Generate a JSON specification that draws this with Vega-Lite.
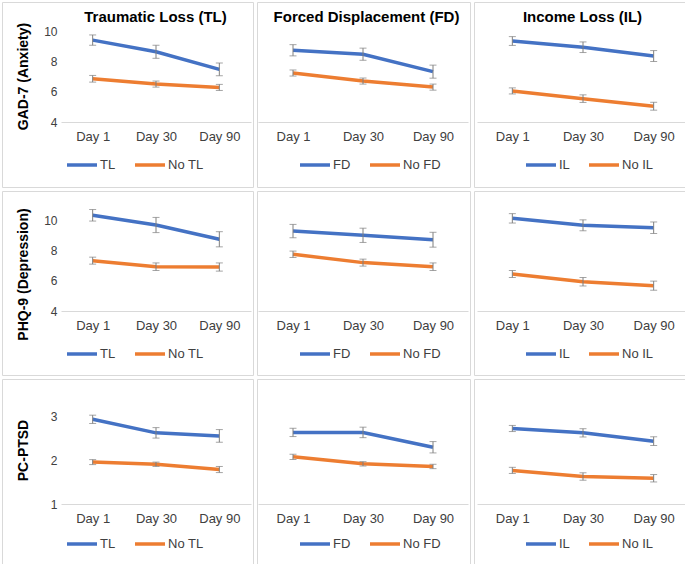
{
  "$schema": "https://vega.github.io/schema/vega-lite/v6.json",
  "padding": {"left": 1, "top": 1, "right": 0, "bottom": 0},
  "background": "white",
  "datasets": {
    "d": [
      {"m":"GAD-7","g":"TL","s":"TL","d":"Day 1","v":9.4,"lo":9.06,"hi":9.74},
      {"m":"GAD-7","g":"TL","s":"TL","d":"Day 30","v":8.63,"lo":8.2,"hi":9.06},
      {"m":"GAD-7","g":"TL","s":"TL","d":"Day 90","v":7.47,"lo":7.05,"hi":7.89},
      {"m":"GAD-7","g":"TL","s":"No TL","d":"Day 1","v":6.85,"lo":6.63,"hi":7.07},
      {"m":"GAD-7","g":"TL","s":"No TL","d":"Day 30","v":6.5,"lo":6.3,"hi":6.7},
      {"m":"GAD-7","g":"TL","s":"No TL","d":"Day 90","v":6.28,"lo":6.08,"hi":6.48},
      {"m":"GAD-7","g":"FD","s":"FD","d":"Day 1","v":8.73,"lo":8.36,"hi":9.1},
      {"m":"GAD-7","g":"FD","s":"FD","d":"Day 30","v":8.47,"lo":8.07,"hi":8.87},
      {"m":"GAD-7","g":"FD","s":"FD","d":"Day 90","v":7.32,"lo":6.89,"hi":7.75},
      {"m":"GAD-7","g":"FD","s":"No FD","d":"Day 1","v":7.23,"lo":7.03,"hi":7.43},
      {"m":"GAD-7","g":"FD","s":"No FD","d":"Day 30","v":6.7,"lo":6.5,"hi":6.9},
      {"m":"GAD-7","g":"FD","s":"No FD","d":"Day 90","v":6.3,"lo":6.1,"hi":6.5},
      {"m":"GAD-7","g":"IL","s":"IL","d":"Day 1","v":9.34,"lo":9.05,"hi":9.63},
      {"m":"GAD-7","g":"IL","s":"IL","d":"Day 30","v":8.93,"lo":8.58,"hi":9.28},
      {"m":"GAD-7","g":"IL","s":"IL","d":"Day 90","v":8.35,"lo":7.99,"hi":8.71},
      {"m":"GAD-7","g":"IL","s":"No IL","d":"Day 1","v":6.05,"lo":5.85,"hi":6.25},
      {"m":"GAD-7","g":"IL","s":"No IL","d":"Day 30","v":5.54,"lo":5.29,"hi":5.79},
      {"m":"GAD-7","g":"IL","s":"No IL","d":"Day 90","v":5.04,"lo":4.78,"hi":5.3},
      {"m":"PHQ-9","g":"TL","s":"TL","d":"Day 1","v":10.31,"lo":9.93,"hi":10.69},
      {"m":"PHQ-9","g":"TL","s":"TL","d":"Day 30","v":9.67,"lo":9.17,"hi":10.17},
      {"m":"PHQ-9","g":"TL","s":"TL","d":"Day 90","v":8.73,"lo":8.23,"hi":9.23},
      {"m":"PHQ-9","g":"TL","s":"No TL","d":"Day 1","v":7.32,"lo":7.09,"hi":7.55},
      {"m":"PHQ-9","g":"TL","s":"No TL","d":"Day 30","v":6.92,"lo":6.67,"hi":7.17},
      {"m":"PHQ-9","g":"TL","s":"No TL","d":"Day 90","v":6.9,"lo":6.63,"hi":7.17},
      {"m":"PHQ-9","g":"FD","s":"FD","d":"Day 1","v":9.27,"lo":8.83,"hi":9.71},
      {"m":"PHQ-9","g":"FD","s":"FD","d":"Day 30","v":8.99,"lo":8.52,"hi":9.46},
      {"m":"PHQ-9","g":"FD","s":"FD","d":"Day 90","v":8.7,"lo":8.21,"hi":9.19},
      {"m":"PHQ-9","g":"FD","s":"No FD","d":"Day 1","v":7.74,"lo":7.53,"hi":7.95},
      {"m":"PHQ-9","g":"FD","s":"No FD","d":"Day 30","v":7.19,"lo":6.96,"hi":7.42},
      {"m":"PHQ-9","g":"FD","s":"No FD","d":"Day 90","v":6.92,"lo":6.67,"hi":7.17},
      {"m":"PHQ-9","g":"IL","s":"IL","d":"Day 1","v":10.11,"lo":9.8,"hi":10.42},
      {"m":"PHQ-9","g":"IL","s":"IL","d":"Day 30","v":9.65,"lo":9.29,"hi":10.01},
      {"m":"PHQ-9","g":"IL","s":"IL","d":"Day 90","v":9.49,"lo":9.11,"hi":9.87},
      {"m":"PHQ-9","g":"IL","s":"No IL","d":"Day 1","v":6.44,"lo":6.21,"hi":6.67},
      {"m":"PHQ-9","g":"IL","s":"No IL","d":"Day 30","v":5.93,"lo":5.65,"hi":6.21},
      {"m":"PHQ-9","g":"IL","s":"No IL","d":"Day 90","v":5.67,"lo":5.37,"hi":5.97},
      {"m":"PC-PTSD","g":"TL","s":"TL","d":"Day 1","v":2.94,"lo":2.845,"hi":3.035},
      {"m":"PC-PTSD","g":"TL","s":"TL","d":"Day 30","v":2.63,"lo":2.51,"hi":2.75},
      {"m":"PC-PTSD","g":"TL","s":"TL","d":"Day 90","v":2.56,"lo":2.415,"hi":2.705},
      {"m":"PC-PTSD","g":"TL","s":"No TL","d":"Day 1","v":1.96,"lo":1.903,"hi":2.017},
      {"m":"PC-PTSD","g":"TL","s":"No TL","d":"Day 30","v":1.91,"lo":1.86,"hi":1.96},
      {"m":"PC-PTSD","g":"TL","s":"No TL","d":"Day 90","v":1.79,"lo":1.72,"hi":1.86},
      {"m":"PC-PTSD","g":"FD","s":"FD","d":"Day 1","v":2.64,"lo":2.545,"hi":2.735},
      {"m":"PC-PTSD","g":"FD","s":"FD","d":"Day 30","v":2.64,"lo":2.52,"hi":2.76},
      {"m":"PC-PTSD","g":"FD","s":"FD","d":"Day 90","v":2.3,"lo":2.17,"hi":2.43},
      {"m":"PC-PTSD","g":"FD","s":"No FD","d":"Day 1","v":2.08,"lo":2.02,"hi":2.14},
      {"m":"PC-PTSD","g":"FD","s":"No FD","d":"Day 30","v":1.92,"lo":1.87,"hi":1.97},
      {"m":"PC-PTSD","g":"FD","s":"No FD","d":"Day 90","v":1.86,"lo":1.81,"hi":1.91},
      {"m":"PC-PTSD","g":"IL","s":"IL","d":"Day 1","v":2.73,"lo":2.66,"hi":2.8},
      {"m":"PC-PTSD","g":"IL","s":"IL","d":"Day 30","v":2.63,"lo":2.535,"hi":2.725},
      {"m":"PC-PTSD","g":"IL","s":"IL","d":"Day 90","v":2.44,"lo":2.34,"hi":2.54},
      {"m":"PC-PTSD","g":"IL","s":"No IL","d":"Day 1","v":1.77,"lo":1.7,"hi":1.84},
      {"m":"PC-PTSD","g":"IL","s":"No IL","d":"Day 30","v":1.63,"lo":1.545,"hi":1.715},
      {"m":"PC-PTSD","g":"IL","s":"No IL","d":"Day 90","v":1.59,"lo":1.505,"hi":1.675}
    ]
  },
  "data": {"name": "d"},
  "spacing": 2,
  "resolve": {"scale": {"x": "independent", "y": "independent", "color": "independent"}, "legend": {"color": "independent"}, "axis": {"x": "independent", "y": "independent"}},
  "vconcat": [
    {
      "spacing": 2,
      "resolve": {"scale": {"x": "independent", "y": "independent", "color": "independent"}, "legend": {"color": "independent"}},
      "hconcat": [
        {
          "width": 251, "height": 185,
          "title": {"text": "Traumatic Loss (TL)", "dx": 28},
          "transform": [{"filter": "datum.m === 'GAD-7' && datum.g === 'TL'"}],
          "encoding": {"x": {"field": "d", "type": "ordinal", "scale": {"type": "point", "domain": ["Day 1","Day 30","Day 90"], "range": [59, 249], "padding": 0.5}, "axis": {"offset": -65, "title": null}}},
          "layer": [
            {"mark": {"type": "line", "strokeWidth": 3.5}, "encoding": {
              "y": {"field": "v", "type": "quantitative", "scale": {"domain": [4, 10], "range": [120, 29], "nice": false, "zero": false}, "axis": {"values": [4,6,8,10], "offset": -59, "title": "GAD-7 (Anxiety)", "titleX": -31, "titleY": 74}},
              "color": {"field": "s", "type": "nominal", "scale": {"domain": ["TL","No TL"], "range": ["#4472C4","#ED7D31"]}, "legend": {"legendX": 63, "legendY": 146}}}},
            {"mark": {"type": "rule", "color": "#7f7f7f", "strokeWidth": 1}, "encoding": {"y": {"field": "lo", "type": "quantitative"}, "y2": {"field": "hi"}}},
            {"mark": {"type": "tick", "orient": "horizontal", "size": 7, "thickness": 1, "color": "#7f7f7f"}, "encoding": {"y": {"field": "lo", "type": "quantitative"}}},
            {"mark": {"type": "tick", "orient": "horizontal", "size": 7, "thickness": 1, "color": "#7f7f7f"}, "encoding": {"y": {"field": "hi", "type": "quantitative"}}}
          ]
        },
        {
          "width": 213, "height": 185,
          "title": {"text": "Forced Displacement (FD)", "dx": 3},
          "transform": [{"filter": "datum.m === 'GAD-7' && datum.g === 'FD'"}],
          "encoding": {"x": {"field": "d", "type": "ordinal", "scale": {"type": "point", "domain": ["Day 1","Day 30","Day 90"], "range": [1, 211], "padding": 0.5}, "axis": {"offset": -65, "title": null}}},
          "layer": [
            {"mark": {"type": "line", "strokeWidth": 3.5}, "encoding": {
              "y": {"field": "v", "type": "quantitative", "scale": {"domain": [4, 10], "range": [120, 29], "nice": false, "zero": false}, "axis": null},
              "color": {"field": "s", "type": "nominal", "scale": {"domain": ["FD","No FD"], "range": ["#4472C4","#ED7D31"]}, "legend": {"legendX": 41, "legendY": 146}}}},
            {"mark": {"type": "rule", "color": "#7f7f7f", "strokeWidth": 1}, "encoding": {"y": {"field": "lo", "type": "quantitative", "axis": null}, "y2": {"field": "hi"}}},
            {"mark": {"type": "tick", "orient": "horizontal", "size": 7, "thickness": 1, "color": "#7f7f7f"}, "encoding": {"y": {"field": "lo", "type": "quantitative", "axis": null}}},
            {"mark": {"type": "tick", "orient": "horizontal", "size": 7, "thickness": 1, "color": "#7f7f7f"}, "encoding": {"y": {"field": "hi", "type": "quantitative", "axis": null}}}
          ]
        },
        {
          "width": 215, "height": 185,
          "title": {"text": "Income Loss (IL)", "dx": 1},
          "transform": [{"filter": "datum.m === 'GAD-7' && datum.g === 'IL'"}],
          "encoding": {"x": {"field": "d", "type": "ordinal", "scale": {"type": "point", "domain": ["Day 1","Day 30","Day 90"], "range": [3, 215], "padding": 0.5}, "axis": {"offset": -65, "title": null}}},
          "layer": [
            {"mark": {"type": "line", "strokeWidth": 3.5}, "encoding": {
              "y": {"field": "v", "type": "quantitative", "scale": {"domain": [4, 10], "range": [120, 29], "nice": false, "zero": false}, "axis": null},
              "color": {"field": "s", "type": "nominal", "scale": {"domain": ["IL","No IL"], "range": ["#4472C4","#ED7D31"]}, "legend": {"legendX": 50, "legendY": 146}}}},
            {"mark": {"type": "rule", "color": "#7f7f7f", "strokeWidth": 1}, "encoding": {"y": {"field": "lo", "type": "quantitative", "axis": null}, "y2": {"field": "hi"}}},
            {"mark": {"type": "tick", "orient": "horizontal", "size": 7, "thickness": 1, "color": "#7f7f7f"}, "encoding": {"y": {"field": "lo", "type": "quantitative", "axis": null}}},
            {"mark": {"type": "tick", "orient": "horizontal", "size": 7, "thickness": 1, "color": "#7f7f7f"}, "encoding": {"y": {"field": "hi", "type": "quantitative", "axis": null}}}
          ]
        }
      ]
    },
    {
      "spacing": 2,
      "resolve": {"scale": {"x": "independent", "y": "independent", "color": "independent"}, "legend": {"color": "independent"}},
      "hconcat": [
        {
          "width": 251, "height": 184,
          "transform": [{"filter": "datum.m === 'PHQ-9' && datum.g === 'TL'"}],
          "encoding": {"x": {"field": "d", "type": "ordinal", "scale": {"type": "point", "domain": ["Day 1","Day 30","Day 90"], "range": [59, 249], "padding": 0.5}, "axis": {"offset": -64, "title": null}}},
          "layer": [
            {"mark": {"type": "line", "strokeWidth": 3.5}, "encoding": {
              "y": {"field": "v", "type": "quantitative", "scale": {"domain": [4, 10], "range": [120, 29], "nice": false, "zero": false}, "axis": {"values": [4,6,8,10], "offset": -59, "title": "PHQ-9 (Depression)", "titleX": -31, "titleY": 83}},
              "color": {"field": "s", "type": "nominal", "scale": {"domain": ["TL","No TL"], "range": ["#4472C4","#ED7D31"]}, "legend": {"legendX": 63, "legendY": 146}}}},
            {"mark": {"type": "rule", "color": "#7f7f7f", "strokeWidth": 1}, "encoding": {"y": {"field": "lo", "type": "quantitative"}, "y2": {"field": "hi"}}},
            {"mark": {"type": "tick", "orient": "horizontal", "size": 7, "thickness": 1, "color": "#7f7f7f"}, "encoding": {"y": {"field": "lo", "type": "quantitative"}}},
            {"mark": {"type": "tick", "orient": "horizontal", "size": 7, "thickness": 1, "color": "#7f7f7f"}, "encoding": {"y": {"field": "hi", "type": "quantitative"}}}
          ]
        },
        {
          "width": 213, "height": 184,
          "transform": [{"filter": "datum.m === 'PHQ-9' && datum.g === 'FD'"}],
          "encoding": {"x": {"field": "d", "type": "ordinal", "scale": {"type": "point", "domain": ["Day 1","Day 30","Day 90"], "range": [1, 211], "padding": 0.5}, "axis": {"offset": -64, "title": null}}},
          "layer": [
            {"mark": {"type": "line", "strokeWidth": 3.5}, "encoding": {
              "y": {"field": "v", "type": "quantitative", "scale": {"domain": [4, 10], "range": [120, 29], "nice": false, "zero": false}, "axis": null},
              "color": {"field": "s", "type": "nominal", "scale": {"domain": ["FD","No FD"], "range": ["#4472C4","#ED7D31"]}, "legend": {"legendX": 41, "legendY": 146}}}},
            {"mark": {"type": "rule", "color": "#7f7f7f", "strokeWidth": 1}, "encoding": {"y": {"field": "lo", "type": "quantitative", "axis": null}, "y2": {"field": "hi"}}},
            {"mark": {"type": "tick", "orient": "horizontal", "size": 7, "thickness": 1, "color": "#7f7f7f"}, "encoding": {"y": {"field": "lo", "type": "quantitative", "axis": null}}},
            {"mark": {"type": "tick", "orient": "horizontal", "size": 7, "thickness": 1, "color": "#7f7f7f"}, "encoding": {"y": {"field": "hi", "type": "quantitative", "axis": null}}}
          ]
        },
        {
          "width": 215, "height": 184,
          "transform": [{"filter": "datum.m === 'PHQ-9' && datum.g === 'IL'"}],
          "encoding": {"x": {"field": "d", "type": "ordinal", "scale": {"type": "point", "domain": ["Day 1","Day 30","Day 90"], "range": [3, 215], "padding": 0.5}, "axis": {"offset": -64, "title": null}}},
          "layer": [
            {"mark": {"type": "line", "strokeWidth": 3.5}, "encoding": {
              "y": {"field": "v", "type": "quantitative", "scale": {"domain": [4, 10], "range": [120, 29], "nice": false, "zero": false}, "axis": null},
              "color": {"field": "s", "type": "nominal", "scale": {"domain": ["IL","No IL"], "range": ["#4472C4","#ED7D31"]}, "legend": {"legendX": 50, "legendY": 146}}}},
            {"mark": {"type": "rule", "color": "#7f7f7f", "strokeWidth": 1}, "encoding": {"y": {"field": "lo", "type": "quantitative", "axis": null}, "y2": {"field": "hi"}}},
            {"mark": {"type": "tick", "orient": "horizontal", "size": 7, "thickness": 1, "color": "#7f7f7f"}, "encoding": {"y": {"field": "lo", "type": "quantitative", "axis": null}}},
            {"mark": {"type": "tick", "orient": "horizontal", "size": 7, "thickness": 1, "color": "#7f7f7f"}, "encoding": {"y": {"field": "hi", "type": "quantitative", "axis": null}}}
          ]
        }
      ]
    },
    {
      "spacing": 2,
      "resolve": {"scale": {"x": "independent", "y": "independent", "color": "independent"}, "legend": {"color": "independent"}},
      "hconcat": [
        {
          "width": 251, "height": 187,
          "transform": [{"filter": "datum.m === 'PC-PTSD' && datum.g === 'TL'"}],
          "encoding": {"x": {"field": "d", "type": "ordinal", "scale": {"type": "point", "domain": ["Day 1","Day 30","Day 90"], "range": [59, 249], "padding": 0.5}, "axis": {"offset": -62, "title": null}}},
          "layer": [
            {"mark": {"type": "line", "strokeWidth": 3.5}, "encoding": {
              "y": {"field": "v", "type": "quantitative", "scale": {"domain": [1, 3], "range": [125, 37.7], "nice": false, "zero": false}, "axis": {"values": [1,2,3], "format": ".0f", "labelOverlap": false, "labelFlush": false, "offset": -59, "title": "PC-PTSD", "titleX": -31, "titleY": 71}},
              "color": {"field": "s", "type": "nominal", "scale": {"domain": ["TL","No TL"], "range": ["#4472C4","#ED7D31"]}, "legend": {"legendX": 63, "legendY": 148}}}},
            {"mark": {"type": "rule", "color": "#7f7f7f", "strokeWidth": 1}, "encoding": {"y": {"field": "lo", "type": "quantitative"}, "y2": {"field": "hi"}}},
            {"mark": {"type": "tick", "orient": "horizontal", "size": 7, "thickness": 1, "color": "#7f7f7f"}, "encoding": {"y": {"field": "lo", "type": "quantitative"}}},
            {"mark": {"type": "tick", "orient": "horizontal", "size": 7, "thickness": 1, "color": "#7f7f7f"}, "encoding": {"y": {"field": "hi", "type": "quantitative"}}}
          ]
        },
        {
          "width": 213, "height": 187,
          "transform": [{"filter": "datum.m === 'PC-PTSD' && datum.g === 'FD'"}],
          "encoding": {"x": {"field": "d", "type": "ordinal", "scale": {"type": "point", "domain": ["Day 1","Day 30","Day 90"], "range": [1, 211], "padding": 0.5}, "axis": {"offset": -62, "title": null}}},
          "layer": [
            {"mark": {"type": "line", "strokeWidth": 3.5}, "encoding": {
              "y": {"field": "v", "type": "quantitative", "scale": {"domain": [1, 3], "range": [125, 37.7], "nice": false, "zero": false}, "axis": null},
              "color": {"field": "s", "type": "nominal", "scale": {"domain": ["FD","No FD"], "range": ["#4472C4","#ED7D31"]}, "legend": {"legendX": 41, "legendY": 148}}}},
            {"mark": {"type": "rule", "color": "#7f7f7f", "strokeWidth": 1}, "encoding": {"y": {"field": "lo", "type": "quantitative", "axis": null}, "y2": {"field": "hi"}}},
            {"mark": {"type": "tick", "orient": "horizontal", "size": 7, "thickness": 1, "color": "#7f7f7f"}, "encoding": {"y": {"field": "lo", "type": "quantitative", "axis": null}}},
            {"mark": {"type": "tick", "orient": "horizontal", "size": 7, "thickness": 1, "color": "#7f7f7f"}, "encoding": {"y": {"field": "hi", "type": "quantitative", "axis": null}}}
          ]
        },
        {
          "width": 215, "height": 187,
          "transform": [{"filter": "datum.m === 'PC-PTSD' && datum.g === 'IL'"}],
          "encoding": {"x": {"field": "d", "type": "ordinal", "scale": {"type": "point", "domain": ["Day 1","Day 30","Day 90"], "range": [3, 215], "padding": 0.5}, "axis": {"offset": -62, "title": null}}},
          "layer": [
            {"mark": {"type": "line", "strokeWidth": 3.5}, "encoding": {
              "y": {"field": "v", "type": "quantitative", "scale": {"domain": [1, 3], "range": [125, 37.7], "nice": false, "zero": false}, "axis": null},
              "color": {"field": "s", "type": "nominal", "scale": {"domain": ["IL","No IL"], "range": ["#4472C4","#ED7D31"]}, "legend": {"legendX": 50, "legendY": 148}}}},
            {"mark": {"type": "rule", "color": "#7f7f7f", "strokeWidth": 1}, "encoding": {"y": {"field": "lo", "type": "quantitative", "axis": null}, "y2": {"field": "hi"}}},
            {"mark": {"type": "tick", "orient": "horizontal", "size": 7, "thickness": 1, "color": "#7f7f7f"}, "encoding": {"y": {"field": "lo", "type": "quantitative", "axis": null}}},
            {"mark": {"type": "tick", "orient": "horizontal", "size": 7, "thickness": 1, "color": "#7f7f7f"}, "encoding": {"y": {"field": "hi", "type": "quantitative", "axis": null}}}
          ]
        }
      ]
    }
  ],
  "config": {
    "font": "Liberation Sans",
    "view": {"stroke": "#d9d9d9", "strokeWidth": 1},
    "title": {"fontSize": 15, "fontWeight": "bold", "color": "#000000", "anchor": "middle", "offset": -23, "font": "Liberation Sans"},
    "axis": {"grid": false, "ticks": false, "tickSize": 0, "labelFont": "Liberation Sans", "labelColor": "#404040", "titleFont": "Liberation Sans", "titleFontSize": 14, "titleFontWeight": "bold", "titleColor": "#000000", "titleBaseline": "bottom"},
    "axisX": {"domainColor": "#d9d9d9", "domainWidth": 1, "labelFontSize": 13, "labelPadding": 8, "labelAngle": 0},
    "axisY": {"domain": false, "labelFontSize": 12, "labelPadding": 4},
    "legend": {"orient": "none", "direction": "horizontal", "title": null, "symbolType": "stroke", "symbolSize": 900, "symbolStrokeWidth": 3.5, "labelFontSize": 13, "labelColor": "#404040", "labelFont": "Liberation Sans", "labelOffset": 1, "columnPadding": 12, "padding": 0}
  }
}
